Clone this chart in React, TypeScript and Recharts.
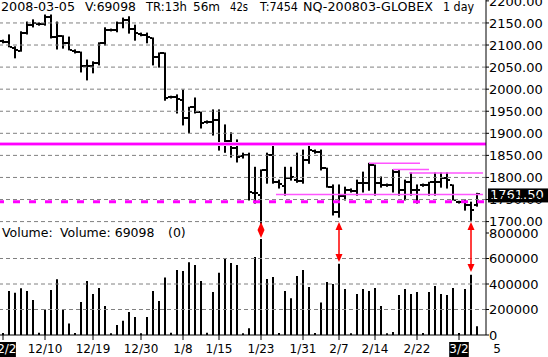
import React from 'react';
import { ComposedChart, Bar, XAxis, YAxis, ReferenceLine } from 'recharts';

const FONT = "'DejaVu Sans', Verdana, sans-serif";

// one slot per Globex session (Sundays included)
const dates = [
  '12/2', '12/3', '12/4', '12/5', '12/6', '12/7', '12/9', '12/10', '12/11', '12/12',
  '12/13', '12/14', '12/16', '12/17', '12/18', '12/19', '12/20', '12/21', '12/23', '12/24',
  '12/26', '12/27', '12/28', '12/30', '12/31', '1/2', '1/3', '1/4', '1/6', '1/7',
  '1/8', '1/9', '1/10', '1/11', '1/13', '1/14', '1/15', '1/16', '1/17', '1/18',
  '1/20', '1/21', '1/22', '1/23', '1/24', '1/25', '1/27', '1/28', '1/29', '1/30',
  '1/31', '2/1', '2/3', '2/4', '2/5', '2/6', '2/7', '2/8', '2/10', '2/11',
  '2/12', '2/13', '2/14', '2/15', '2/17', '2/18', '2/19', '2/20', '2/21', '2/22',
  '2/24', '2/25', '2/26', '2/27', '2/28', '2/29', '3/2', '3/3', '3/4', '3/5',
];

const opens = [
  2109, 2107, 2093, 2086, 2127, 2145, 2148, 2148, 2164, 2118,
  2121, 2105, 2086, 2084, 2052, 2052, 2059, 2105, 2134, 2134,
  2150, 2157, 2136, 2125, 2123, 2116, 2073, 2082, 1982, 1982,
  1975, 1935, 1959, 1948, 1925, 1925, 1930, 1878, 1882, 1866,
  1848, 1851, 1764, 1760, 1817, 1851, 1789, 1780, 1798, 1794,
  1792, 1839, 1860, 1857, 1821, 1778, 1721, 1758, 1771, 1769,
  1787, 1787, 1828, 1787, 1783, 1783, 1812, 1771, 1789, 1771,
  1783, 1783, 1789, 1789, 1798, 1783, 1744, 1744, 1737, 1737,
];
const highs = [
  2111, 2123, 2096, 2130, 2152, 2157, 2150, 2168, 2168, 2152,
  2121, 2118, 2089, 2084, 2066, 2062, 2105, 2139, 2136, 2152,
  2161, 2164, 2145, 2127, 2127, 2116, 2082, 2082, 1984, 1987,
  1998, 1959, 1980, 1948, 1928, 1953, 1953, 1919, 1901, 1885,
  1855, 1855, 1823, 1817, 1855, 1871, 1794, 1823, 1823, 1855,
  1862, 1878, 1862, 1862, 1821, 1783, 1783, 1778, 1774, 1794,
  1812, 1832, 1828, 1801, 1785, 1817, 1817, 1794, 1810, 1783,
  1785, 1789, 1810, 1810, 1810, 1783, 1746, 1749, 1744, 1764,
];
const lows = [
  2105, 2096, 2071, 2086, 2125, 2141, 2145, 2145, 2116, 2091,
  2093, 2089, 2082, 2039, 2021, 2037, 2055, 2100, 2132, 2130,
  2139, 2127, 2111, 2121, 2105, 2055, 2050, 1975, 1980, 1946,
  1919, 1901, 1946, 1912, 1923, 1896, 1862, 1857, 1846, 1835,
  1844, 1749, 1742, 1696, 1787, 1787, 1776, 1760, 1794, 1789,
  1787, 1832, 1855, 1817, 1778, 1715, 1710, 1749, 1767, 1760,
  1767, 1771, 1760, 1778, 1780, 1767, 1760, 1749, 1760, 1742,
  1780, 1760, 1760, 1778, 1776, 1749, 1742, 1726, 1703, 1735,
];
const closes = [
  2107, 2096, 2089, 2127, 2145, 2150, 2148, 2164, 2118, 2121,
  2105, 2089, 2084, 2052, 2052, 2059, 2105, 2134, 2134, 2150,
  2157, 2136, 2127, 2123, 2118, 2073, 2082, 1980, 1982, 1978,
  1935, 1959, 1948, 1923, 1925, 1930, 1878, 1882, 1866, 1846,
  1851, 1767, 1764, 1817, 1851, 1789, 1785, 1798, 1801, 1792,
  1839, 1862, 1857, 1821, 1778, 1721, 1758, 1771, 1769, 1787,
  1787, 1828, 1787, 1783, 1783, 1812, 1771, 1789, 1771, 1771,
  1783, 1789, 1789, 1798, 1794, 1749, 1744, 1737, 1726, 1761.5,
];
const volumes = [
  15000, 345000, 332000, 366000, 345000, 274000, 18000, 201000, 353000, 437000,
  196000, 91000, 16000, 259000, 423000, 322000, 369000, 227000, 14000, 78000,
  112000, 180000, 141000, 14000, 141000, 345000, 267000, 452000, 18000, 510000,
  502000, 570000, 549000, 423000, 18000, 337000, 489000, 596000, 565000, 549000,
  14000, 52000, 612000, 753000, 439000, 455000, 16000, 345000, 288000, 463000,
  510000, 376000, 16000, 254000, 416000, 400000, 559000, 361000, 14000, 322000,
  361000, 345000, 369000, 227000, 14000, 24000, 314000, 361000, 322000, 337000,
  16000, 337000, 384000, 322000, 314000, 369000, 16000, 361000, 473000, 69098,
];

const tickDates = ['12/2', '12/10', '12/19', '12/30', '1/8', '1/15', '1/23', '1/31', '2/7', '2/14', '2/22', '3/2'];
const markedDates = ['12/2', '3/2'];
const priceTicks = [1700, 1750, 1800, 1850, 1900, 1950, 2000, 2050, 2100, 2150, 2200];
const priceGrid = [1700, 1750, 1800, 1850, 1900, 1950, 2000, 2050, 2100, 2150];
const volumeTicks = [0, 200000, 400000, 600000, 800000];
const volumeGrid = [200000, 400000, 600000];

const solidLevel = 1876;
const dashedLevel = 1745;
const levelSegments = [
  { price: 1832, from: 61, to: 69.5 },
  { price: 1818, from: 65, to: 71 },
  { price: 1810, from: 67.7, to: 80 },
  { price: 1761.5, from: 45.5, to: 80 },
];
const spikeArrows = [
  { date: '1/23', top: 886000, bottom: 761000 },
  { date: '2/7', top: 886000, bottom: 572000 },
  { date: '3/4', top: 886000, bottom: 494000 },
];

// header pieces: text, left edge, width
const header = [
  { text: '2008-03-05', x: 1, w: 74 },
  { text: 'V:69098', x: 85, w: 51 },
  { text: 'TR:13h', x: 146, w: 41 },
  { text: '56m', x: 193, w: 27 },
  { text: '42s', x: 230, w: 18 },
  { text: 'T:7454', x: 260, w: 38 },
  { text: 'NQ-200803-GLOBEX', x: 303, w: 130 },
  { text: '1 day', x: 443, w: 31 },
];

const lastPrice = closes[closes.length - 1];

const rows = dates.map((d, i) => ({
  i,
  date: d,
  open: opens[i],
  high: highs[i],
  low: lows[i],
  close: closes[i],
  range: [lows[i], highs[i]],
  vol: volumes[i],
}));

const tickIdx = tickDates.map((d) => dates.indexOf(d));

const OhlcShape = (props: any) => {
  const { x, y, width, height, payload } = props;
  const cx = Math.round(x + width / 2);
  const span = payload.high - payload.low;
  const py = (v: number) => (span > 0 ? y + ((payload.high - v) / span) * height : y);
  const yo = Math.round(py(payload.open));
  const yc = Math.round(py(payload.close));
  return (
    <g fill="#000">
      <rect x={cx - 1} y={y - 0.5} width={2} height={Math.max(height, 1) + 1} />
      <rect x={cx - 3} y={yo - 1} width={2} height={2} />
      <rect x={cx + 1} y={yc - 1} width={2} height={2} />
    </g>
  );
};

const DateTick = (props: any) => {
  const { x, y, payload } = props;
  const label = dates[payload.value];
  const marked = markedDates.includes(label);
  const w = label.length * 6.2 + 1;
  return (
    <g>
      {marked && <rect x={x - w / 2} y={y} width={w} height={15} fill="#000" />}
      <text x={x} y={y + 11} textAnchor="middle" fontSize={12} fontFamily={FONT} fill={marked ? '#fff' : '#000'}>
        {label}
      </text>
    </g>
  );
};

const PriceTag = (props: any) => {
  const vb = props.viewBox;
  if (!vb) return null;
  const left = vb.x + vb.width + 2;
  return (
    <g>
      <rect x={left} y={vb.y - 6} width={62} height={14} fill="#000" />
      <text x={left + 2} y={vb.y + 5} fontSize={13} fontFamily={FONT} fill="#fff">
        {lastPrice.toFixed(2)}
      </text>
    </g>
  );
};

const ArrowShape = (props: any) => {
  const { x1, y1, y2 } = props;
  const cx = x1;
  const top = Math.min(y1, y2);
  const bot = Math.max(y1, y2);
  return (
    <g fill="#ff0000" stroke="none">
      <rect x={cx - 0.75} y={top + 6} width={1.5} height={Math.max(bot - top - 12, 0)} />
      <polygon points={`${cx},${top} ${cx - 3.5},${top + 8} ${cx + 3.5},${top + 8}`} />
      <polygon points={`${cx},${bot} ${cx - 3.5},${bot - 8} ${cx + 3.5},${bot - 8}`} />
    </g>
  );
};

const axisTick = { fontSize: 13, fontFamily: FONT, fill: '#000' };

export default function App() {
  return (
    <div style={{ position: 'absolute', left: 0, top: 0, width: 548, height: 357, background: '#fff', overflow: 'hidden' }}>
      <div style={{ position: 'absolute', left: 0, top: 0 }}>
        <ComposedChart width={548} height={226} data={rows} margin={{ top: 0, right: 0, bottom: 0, left: 0 }}>
          <XAxis dataKey="i" type="number" domain={[-0.5, 80.5]} hide allowDataOverflow />
          <YAxis
            orientation="right"
            domain={[1690, 2202]}
            ticks={priceTicks}
            interval={0}
            allowDataOverflow
            width={62}
            tickFormatter={(v: number) => v.toFixed(2)}
            tick={axisTick}
            tickSize={3}
            tickMargin={0}
            axisLine={{ stroke: '#000' }}
            tickLine={{ stroke: '#000' }}
          />
          {priceGrid.map((v) => (
            <ReferenceLine key={v} y={v} stroke="#808080" strokeDasharray="4 3" />
          ))}
          <ReferenceLine y={solidLevel} stroke="#ff99ff" strokeWidth={4} />
          <ReferenceLine y={solidLevel} stroke="#ff00ff" strokeWidth={2} />
          <ReferenceLine y={dashedLevel} stroke="#ff00ff" strokeWidth={3} strokeDasharray="7 9" strokeDashoffset={-2} />
          {levelSegments.map((s) => (
            <ReferenceLine
              key={s.price}
              segment={[{ x: s.from, y: s.price }, { x: s.to, y: s.price }]}
              stroke="#ff55ff"
              strokeWidth={1.5}
            />
          ))}
          <Bar dataKey="range" barSize={2} shape={OhlcShape} isAnimationActive={false} />
          <ReferenceLine y={lastPrice} stroke="none" ifOverflow="visible" label={PriceTag} />
        </ComposedChart>
      </div>
      <div style={{ position: 'absolute', left: 0, top: 220 }}>
        <ComposedChart width={548} height={137} data={rows} margin={{ top: 6, right: 0, bottom: 0, left: 0 }}>
          <XAxis
            dataKey="i"
            type="number"
            domain={[-0.5, 80.5]}
            allowDataOverflow
            ticks={tickIdx}
            interval={0}
            tick={<DateTick />}
            tickSize={5}
            tickMargin={2}
            height={22}
            axisLine={{ stroke: '#000' }}
            tickLine={{ stroke: '#000' }}
          />
          <YAxis
            orientation="right"
            domain={[0, 855000]}
            ticks={volumeTicks}
            interval={0}
            allowDataOverflow
            width={62}
            tick={axisTick}
            tickSize={3}
            tickMargin={0}
            axisLine={{ stroke: '#000' }}
            tickLine={{ stroke: '#000' }}
          />
          {volumeGrid.map((v) => (
            <ReferenceLine key={v} y={v} stroke="#808080" strokeDasharray="4 3" />
          ))}
          <Bar dataKey="vol" barSize={2} fill="#000" isAnimationActive={false} />
          {spikeArrows.map((a) => (
            <ReferenceLine
              key={a.date}
              ifOverflow="visible"
              segment={[{ x: dates.indexOf(a.date), y: a.top }, { x: dates.indexOf(a.date), y: a.bottom }]}
              shape={ArrowShape}
            />
          ))}
        </ComposedChart>
      </div>
      <svg width={548} height={357} style={{ position: 'absolute', left: 0, top: 0, pointerEvents: 'none' }}>
        <g fontFamily={FONT} fontSize={12.5} fill="#000">
          {header.map((h) => (
            <text key={h.text} x={h.x} y={11} textLength={h.w} lengthAdjust="spacingAndGlyphs">
              {h.text}
            </text>
          ))}
          <text x={2} y={237}>Volume:</text>
          <text x={60} y={237}>Volume: 69098</text>
          <text x={168} y={237}>(0)</text>
          <text x={497} y={353} fontSize={12} textAnchor="middle">5</text>
        </g>
      </svg>
    </div>
  );
}
